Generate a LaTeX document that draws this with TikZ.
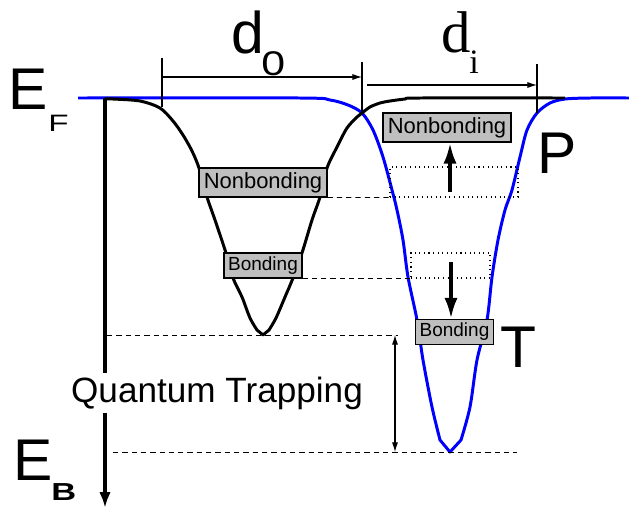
\documentclass[tikz,border=0pt]{standalone}
\usepackage{fontspec}
\setmainfont{Liberation Sans}
\newfontfamily\timesfont{Liberation Serif}
\usetikzlibrary{arrows.meta}

\begin{document}
\begin{tikzpicture}[
    x=0.02cm, y=-0.02cm,
    big/.style={inner sep=0, anchor=base west, font=\fontsize{33.5}{38}\selectfont},
    small/.style={inner sep=0, anchor=base west},
    level/.style={rectangle, draw, fill=black!25, line width=0.6pt, inner sep=0},
    nonbond/.style={level, minimum width=2.56cm, minimum height=0.58cm, font=\fontsize{12.5}{14}\selectfont},
    bond/.style={level, minimum width=1.56cm, minimum height=0.5cm, font=\fontsize{10.8}{12}\selectfont},
    ghostnb/.style={draw, dotted, line width=0.6pt, minimum width=2.56cm, minimum height=0.6cm, inner sep=0},
    ghostb/.style={draw, dotted, line width=0.6pt, minimum width=1.58cm, minimum height=0.5cm, inner sep=0},
    well/.style={line width=1.7pt, line join=round},
    guide/.style={line width=0.5pt, dash pattern=on 3pt off 2.3pt},
    tick/.style={line width=0.6pt},
    dim/.style={line width=0.6pt, -{Latex[length=5.5pt, width=3.5pt]}},
    span/.style={line width=0.6pt, {Latex[length=5.5pt, width=3.5pt]}-{Latex[length=5.5pt, width=3.5pt]}},
    move/.style={line width=2.2pt, -{Latex[length=12pt, width=7.5pt]}},
    axis/.style={line width=2pt, -{Latex[length=9pt, width=6.5pt]}}
]
\useasboundingbox (0,0) rectangle (629,508);

% --- Wells ---
\draw[well, blue] plot[smooth, tension=0.5] coordinates {
    (78,98) (300,98) (330,100) (348,105) (362,113) (373,130) (383,157)
    (392,190) (397,210) (403,240) (408,277) (417,320) (423,360) (432,407) (440,440)}
    -- (450,452) --
    plot[smooth, tension=0.5] coordinates {
    (461,440) (470,407) (477,360) (487,320) (492,277) (498,240) (505,210)
    (512,190) (520,157) (527,130) (537,113) (550,103) (565,99) (590,98) (629,98)};
\draw[well] plot[smooth, tension=0.5] coordinates {
    (105,99) (113,99) (140,101) (160,108) (173,121) (183,135) (192,151) (199,168)
    (207,197) (215,220) (226,253) (233,278) (242,297) (250,318) (257,330)}
    -- (263,335) --
    plot[smooth, tension=0.5] coordinates {
    (269,330) (276,318) (285,297) (293,278) (302,253) (312,220) (320,197)
    (327,168) (337,147) (347,128) (357,117) (362,113) (370,107) (380,103)
    (390,101) (405,99) (420,98) (565,98)};

% --- Energy axis ---
\coordinate (top) at (105,98);
\coordinate (bottom) at (105,508);
\draw[axis] (top) -- (bottom);
\node[big] (ef) at (8,109) {E};
\node[small, font=\fontsize{13.5}{15}\selectfont] (efsub) at (48,131) {\scalebox{1.4}[1]{F}};
\node[big] (eb) at (13,480) {E};
\node[small, font=\fontsize{14}{16}\selectfont\bfseries] (ebsub) at (51,500) {\scalebox{1.4}[1]{B}};

% --- Widths ---
\coordinate (a0) at (162,58);  \coordinate (a1) at (162,107);
\coordinate (b0) at (362,62);  \coordinate (b1) at (362,113);
\coordinate (c0) at (537,64);  \coordinate (c1) at (537,113);
\draw[tick] (a0) -- (a1);
\draw[tick] (b0) -- (b1);
\draw[tick] (c0) -- (c1);
\coordinate (d0l) at (162,77);  \coordinate (d0r) at (362,77);
\coordinate (dil) at (367,85);  \coordinate (dir) at (537,85);
\draw[dim] (d0l) -- (d0r);
\draw[dim] (dil) -- (dir);
\node[big] (dz) at (231,53) {d};
\node[small, font=\fontsize{19.5}{21}\selectfont] (dzsub) at (261,75) {\scalebox{1.25}[1]{0}};
\node[big, font=\fontsize{33.5}{38}\selectfont\timesfont] (di) at (441,52) {d};
\node[small, font=\fontsize{19.5}{21}\selectfont\timesfont] (disub) at (469,73) {i};

% --- Levels ---
\node[nonbond] (nb0) at (263,182.5) {Nonbonding};
\node[bond] (bd0) at (263,265.5) {Bonding};
\node[nonbond] (nbi) at (447,127.5) {Nonbonding};
\node[bond] (bdi) at (454.5,332) {Bonding};
\node[ghostnb] (nbghost) at (454,182) {};
\node[ghostb] (bdghost) at (450.5,265.5) {};
\draw[guide] (nb0.south east) -- (nbghost.south west);
\draw[guide] (bd0.south east) -- (bdghost.south west);
\coordinate (up0) at (450,192);
\coordinate (down0) at (451,262);
\draw[move] (up0) -- (up0 |- nbi.south);
\draw[move] (down0) -- (down0 |- bdi.north);
\node[big] (p) at (537,173) {P};
\node[big] (t) at (500,367) {T};

% --- Quantum trapping ---
\coordinate (tl) at (107,335);  \coordinate (tr) at (398,335);
\coordinate (bl) at (113,452);  \coordinate (br) at (517,452);
\draw[guide] (tl) -- (tr);
\draw[guide] (bl) -- (br);
\coordinate (s0) at (395,335);  \coordinate (s1) at (395,452);
\draw[span] (s0) -- (s1);
\node[anchor=base, fill=white, inner sep=2pt, font=\fontsize{20}{22}\selectfont] (qt) at (217,402) {Quantum Trapping};

\end{tikzpicture}
\end{document}
